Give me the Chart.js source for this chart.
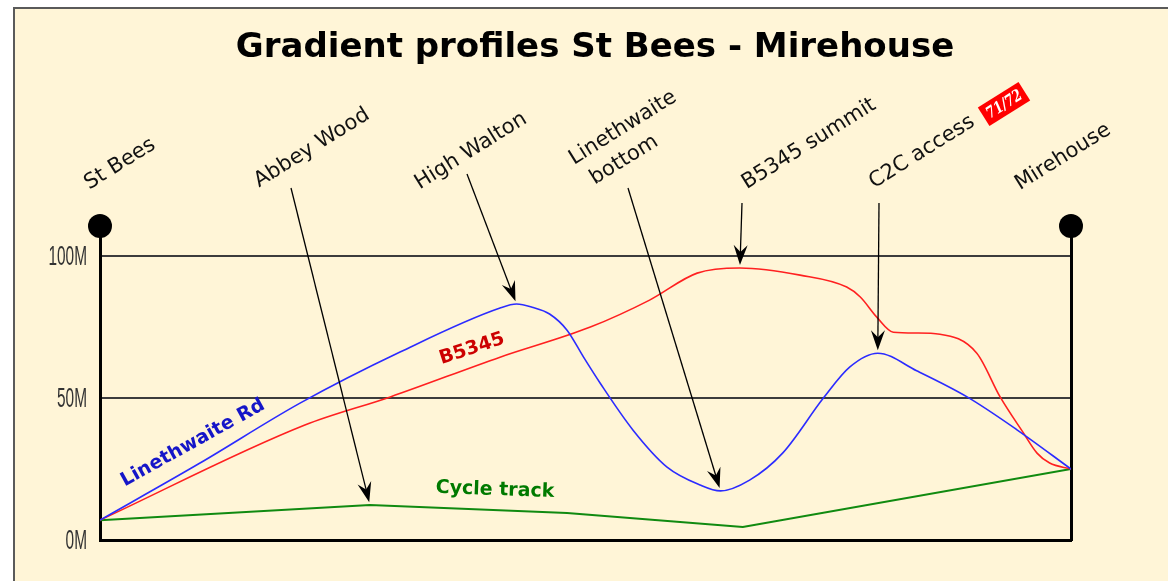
<!DOCTYPE html>
<html>
<head>
<meta charset="utf-8">
<script src="https://cdn.jsdelivr.net/npm/chart.js@4.4.1/dist/chart.umd.min.js"></script>
<style>
  html,body{margin:0;padding:0;background:#fff;}
  body{width:1168px;height:581px;position:relative;overflow:hidden;}
  #frame{position:absolute;left:13px;top:7px;right:0;bottom:0;background:#fff5d7;border-left:2px solid #5a5a5a;border-top:2px solid #5a5a5a;}
  #c{position:absolute;left:0;top:0;}
</style>
</head>
<body>
<div id="frame"></div>
<canvas id="c" width="1168" height="581"></canvas>
<script>
// gradient profile, distance as % of the route, height in metres
const title='Gradient profiles St Bees - Mirehouse';
const yTicks=[0,50,100];
const xMax=100, yTop=110.6;

const roadX=[0,10.3,20.6,30.9,41.2,42.9,44.5,46.3,48.1,49.8,51.5,54.9,58.4,61.8,63.9,66.9,70.3,74.5,77.2,80.1,84.1,89.3,94.4,100];
const roadY=[7,27.1,48.2,66.2,81.7,83.1,82.0,79.6,73.9,64.4,55.3,38.7,25.7,19.4,17.3,21.1,30.6,50.0,60.9,65.8,59.6,50.4,38.9,25];

const b5345X=[0,21.1,29.9,41.2,50.5,56.6,61.5,65.9,72.1,76.9,78.3,80.0,81.7,84.1,86.5,90.3,92.7,95.1,96.5,97.8,100];
const b5345Y=[7,40.5,50.4,64.4,75.0,84.5,94.0,95.8,93.3,89.1,85.6,78.5,73.2,72.9,72.5,65.8,50.4,37.7,30.6,27.1,25];

const cycleX=[0,27.8,48.1,66.2,100];
const cycleY=[7,12.3,9.5,4.6,25];

const endsX=[0,xMax];
const seriesNames=['Linethwaite Rd','B5345','Cycle track'];

// place names with the series point each arrow points at (null = no arrow)
const places=[
  {text:['St Bees'],series:null,idx:null},
  {text:['Abbey Wood'],series:2,idx:1},
  {text:['High Walton'],series:0,idx:5},
  {text:['Linethwaite','bottom'],series:0,idx:14},
  {text:['B5345 summit'],series:1,idx:7},
  {text:['C2C access'],series:0,idx:19},
  {text:['Mirehouse'],series:null,idx:null}
];
const badge='71/72';

const pts=(xs,ys)=>xs.map((x,i)=>({x,y:ys[i]}));

// label layout (pixels)
const placeLayout=[
  {cx:120,cy:164},
  {cx:312,cy:148,tail:[291,188]},
  {cx:471,cy:151,tail:[467,174]},
  {cx:623.5,cy:144,tail:[628,188],lines:[[8,-14],[-8,14]]},
  {cx:809,cy:144,tail:[742,203]},
  {cx:922,cy:152,tail:[879,203]},
  {cx:1063,cy:157}
];
const seriesLabelLayout=[
  {cx:193,cy:443,rot:-29,color:'#1515c8'},
  {cx:472,cy:349,rot:-18,color:'#cc0000'},
  {cx:495,cy:490,rot:2,color:'#007a00'}
];

function rotText(ctx,lines,cx,cy,deg,font,color,offs){
  ctx.save();
  ctx.translate(cx,cy);
  ctx.rotate(deg*Math.PI/180);
  ctx.font=font;ctx.fillStyle=color;
  ctx.textAlign='center';ctx.textBaseline='middle';
  lines.forEach((t,i)=>{
    const o=offs?offs[i]:[0,0];
    ctx.fillText(t,o[0],o[1]);
  });
  ctx.restore();
}

function arrow(ctx,x0,y0,x1,y1){
  const a=Math.atan2(y1-y0,x1-x0);
  const tx=x1-3*Math.cos(a), ty=y1-3*Math.sin(a);
  ctx.save();
  ctx.strokeStyle='#000';ctx.lineWidth=1.3;
  ctx.beginPath();ctx.moveTo(x0,y0);ctx.lineTo(tx-10*Math.cos(a),ty-10*Math.sin(a));ctx.stroke();
  ctx.fillStyle='#000';
  ctx.translate(tx,ty);ctx.rotate(a);
  ctx.beginPath();
  ctx.moveTo(0,0);ctx.lineTo(-20,-7);ctx.lineTo(-13,0);ctx.lineTo(-20,7);ctx.closePath();
  ctx.fill();
  ctx.restore();
}

const annot={
  id:'annot',
  afterDatasetsDraw(chart){
    const ctx=chart.ctx, xs=chart.scales.x, ys=chart.scales.y;
    // title
    ctx.save();
    ctx.font='bold 34px "DejaVu Sans"';ctx.fillStyle='#000';
    ctx.textAlign='center';ctx.textBaseline='alphabetic';
    ctx.fillText(title,595,57);
    ctx.restore();
    places.forEach((p,i)=>{
      const L=placeLayout[i];
      rotText(ctx,p.text,L.cx,L.cy,-32,'21px "DejaVu Sans"','#111',L.lines);
      if(p.series!==null){
        const d=chart.data.datasets[p.series].data[p.idx];
        arrow(ctx,L.tail[0],L.tail[1],xs.getPixelForValue(d.x),ys.getPixelForValue(d.y));
      }
    });
    // red 71/72 badge
    ctx.save();
    ctx.translate(1004,104);ctx.rotate(-32*Math.PI/180);
    ctx.fillStyle='#ff0000';ctx.fillRect(-24,-11,48,22);
    ctx.fillStyle='#fff';ctx.font='italic bold 16px "DejaVu Serif"';
    ctx.textAlign='center';ctx.textBaseline='middle';
    ctx.scale(0.78,1);
    ctx.fillText(badge,0,1);
    ctx.restore();
    seriesNames.forEach((n,i)=>{
      const L=seriesLabelLayout[i];
      rotText(ctx,[n],L.cx,L.cy,L.rot,'bold 19px "DejaVu Sans"',L.color);
    });
  },
  afterDraw(chart){
    const ctx=chart.ctx, ys=chart.scales.y;
    yTicks.forEach(v=>{
      const y=ys.getPixelForValue(v);
      ctx.save();
      ctx.translate(87,y+1);ctx.scale(0.55,1);
      ctx.font='28px "Liberation Sans"';
      ctx.fillStyle='#333';ctx.textAlign='right';ctx.textBaseline='middle';
      ctx.fillText(v+'M',0,0);
      ctx.restore();
    });
  }
};

new Chart(document.getElementById('c'),{
  type:'line',
  data:{datasets:[
    {label:seriesNames[0],data:pts(roadX,roadY),borderColor:'#2b2bff',borderWidth:1.6,cubicInterpolationMode:'monotone',pointRadius:0},
    {label:seriesNames[1],data:pts(b5345X,b5345Y),borderColor:'#ff2020',borderWidth:1.6,cubicInterpolationMode:'monotone',pointRadius:0},
    {label:seriesNames[2],data:pts(cycleX,cycleY),borderColor:'#108a10',borderWidth:2,tension:0,pointRadius:0},
    {label:'ends',data:endsX.map(x=>({x,y:yTop})),showLine:false,pointRadius:12,pointBackgroundColor:'#000',pointBorderWidth:0,clip:false}
  ]},
  options:{
    responsive:false,animation:false,devicePixelRatio:1,
    layout:{padding:{left:0,right:97,top:226,bottom:41}},
    plugins:{legend:{display:false},tooltip:{enabled:false},title:{display:false}},
    scales:{
      x:{type:'linear',min:0,max:xMax,ticks:{display:false},grid:{display:false,drawTicks:false},
         border:{display:true,color:'#000',width:3},afterFit:s=>{s.height=0;}},
      y:{min:0,max:yTop,ticks:{display:false},afterBuildTicks:s=>{s.ticks=yTicks.map(v=>({value:v}));},
         grid:{color:'#3c3c3c',lineWidth:2,drawTicks:false},border:{color:'#000',width:3},afterFit:s=>{s.width=100;}},
      y2:{position:'right',min:0,max:yTop,ticks:{display:false},grid:{display:false,drawTicks:false},
         border:{color:'#000',width:3},afterFit:s=>{s.width=0;}}
    }
  },
  plugins:[annot]
});
</script>
</body>
</html>
